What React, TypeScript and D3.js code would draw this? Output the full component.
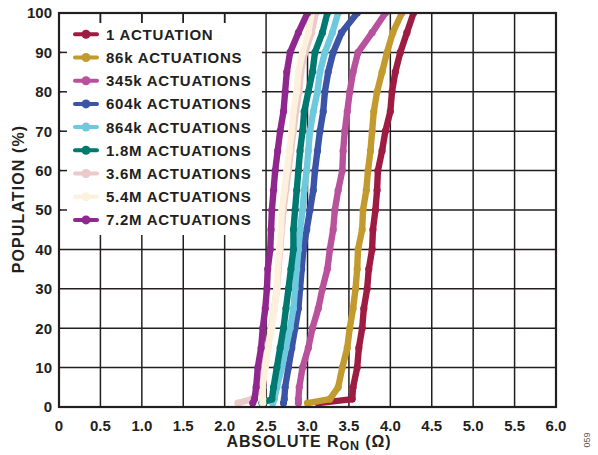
import React from 'react';
import * as d3 from 'd3';

// Population levels (%) at which each curve's R_ON is read
const population = [1, 2, 5, 10, 15, 20, 25, 30, 35, 40, 45, 50, 55, 60, 65, 70, 75, 80, 85, 90, 95, 100];

// Absolute R_ON (Ω) for each series at the population levels above
const ron1 = [3.13, 3.54, 3.55, 3.60, 3.62, 3.66, 3.68, 3.72, 3.74, 3.78, 3.79, 3.82, 3.84, 3.85, 3.90, 3.94, 4.00, 4.02, 4.06, 4.12, 4.20, 4.28];
const ron86k = [3.00, 3.27, 3.37, 3.42, 3.48, 3.51, 3.55, 3.58, 3.60, 3.61, 3.66, 3.67, 3.71, 3.73, 3.76, 3.78, 3.80, 3.84, 3.90, 3.96, 4.03, 4.14];
const ron345k = [2.89, 2.89, 2.90, 2.94, 3.01, 3.06, 3.13, 3.18, 3.24, 3.27, 3.31, 3.33, 3.37, 3.42, 3.43, 3.45, 3.48, 3.51, 3.55, 3.61, 3.78, 3.94];
const ron604k = [2.71, 2.72, 2.73, 2.77, 2.81, 2.85, 2.89, 2.91, 2.93, 2.95, 2.99, 3.03, 3.07, 3.09, 3.12, 3.15, 3.19, 3.21, 3.25, 3.31, 3.41, 3.60];
const ron864k = [2.58, 2.60, 2.63, 2.69, 2.74, 2.79, 2.83, 2.85, 2.87, 2.89, 2.91, 2.94, 2.96, 2.99, 3.01, 3.03, 3.07, 3.12, 3.15, 3.21, 3.30, 3.37];
const ron1_8M = [2.45, 2.57, 2.59, 2.63, 2.67, 2.71, 2.74, 2.77, 2.80, 2.83, 2.83, 2.85, 2.87, 2.89, 2.91, 2.94, 2.96, 3.01, 3.06, 3.09, 3.18, 3.24];
const ron3_6M = [2.16, 2.33, 2.45, 2.48, 2.52, 2.56, 2.60, 2.63, 2.65, 2.67, 2.69, 2.71, 2.74, 2.77, 2.80, 2.83, 2.86, 2.90, 2.92, 2.97, 3.05, 3.10];
const ron5_4M = [2.46, 2.46, 2.46, 2.49, 2.52, 2.57, 2.60, 2.63, 2.64, 2.66, 2.68, 2.69, 2.72, 2.75, 2.78, 2.81, 2.83, 2.87, 2.89, 2.94, 3.01, 3.05];
const ron7_2M = [2.34, 2.36, 2.38, 2.40, 2.44, 2.46, 2.49, 2.51, 2.52, 2.55, 2.56, 2.57, 2.59, 2.61, 2.64, 2.67, 2.71, 2.73, 2.75, 2.79, 2.89, 3.00];

const seriesNames = [
  '1 ACTUATION',
  '86k ACTUATIONS',
  '345k ACTUATIONS',
  '604k ACTUATIONS',
  '864k ACTUATIONS',
  '1.8M ACTUATIONS',
  '3.6M ACTUATIONS',
  '5.4M ACTUATIONS',
  '7.2M ACTUATIONS',
];
const seriesValues = [ron1, ron86k, ron345k, ron604k, ron864k, ron1_8M, ron3_6M, ron5_4M, ron7_2M];
const seriesColors = ['#9E1B42', '#C39A2E', '#B9529C', '#3B54A5', '#6DC9DD', '#007A70', '#EBCACA', '#FDF1DD', '#8F278E'];

const xTicks = [0, 0.5, 1, 1.5, 2, 2.5, 3, 3.5, 4, 4.5, 5, 5.5, 6];
const xTickLabels = ['0', '0.5', '1.0', '1.5', '2.0', '2.5', '3.0', '3.5', '4.0', '4.5', '5.0', '5.5', '6.0'];
const yTicks = [0, 10, 20, 30, 40, 50, 60, 70, 80, 90, 100];

const FONT = '"Liberation Sans", Arial, Helvetica, sans-serif';
const INK = '#231F20';

export default function App() {
  const W = 598;
  const H = 455;
  const left = 59;
  const right = 556;
  const top = 13;
  const bottom = 407;

  const x = d3.scaleLinear().domain([0, 6]).range([left, right]);
  const y = d3.scaleLinear().domain([0, 100]).range([bottom, top]);

  const line = d3
    .line<[number, number]>()
    .x((d) => x(d[0]))
    .y((d) => y(d[1]));

  // legend box (white, hides grid)
  const legX0 = 61;
  const legX1 = 262;
  const legY0 = 23;
  const legY1 = 235;
  const legRow0 = 34.3;
  const legStep = 23.2;

  return (
    <svg
      width={W}
      height={H}
      viewBox={`0 0 ${W} ${H}`}
      style={{ position: 'absolute', left: 0, top: 0, display: 'block', background: '#fff' }}
      fontFamily={FONT}
    >
      <defs>
        <clipPath id="plotClip">
          <rect x={left} y={top} width={right - left} height={bottom - top} />
        </clipPath>
      </defs>
      <rect x={0} y={0} width={W} height={H} fill="#fff" />

      {/* grid */}
      {xTicks.slice(1, -1).map((t) => (
        <line key={'gx' + t} x1={x(t)} x2={x(t)} y1={top} y2={bottom} stroke={INK} strokeWidth={1.5} />
      ))}
      {yTicks.slice(1, -1).map((t) => (
        <line key={'gy' + t} x1={left} x2={right} y1={y(t)} y2={y(t)} stroke={INK} strokeWidth={1.5} />
      ))}

      {/* legend background hides grid */}
      <rect x={legX0} y={legY0} width={legX1 - legX0} height={legY1 - legY0} fill="#fff" />
      {/* ticks over legend region */}
      {xTicks.slice(1, -1).filter((t) => x(t) < legX1).map((t) => (
        <line key={'tx' + t} x1={x(t)} x2={x(t)} y1={top} y2={top + 10} stroke={INK} strokeWidth={1.5} />
      ))}
      {yTicks.slice(1, -1).filter((t) => y(t) > legY0 && y(t) < legY1).map((t) => (
        <line key={'ty' + t} x1={left} x2={left + 8} y1={y(t)} y2={y(t)} stroke={INK} strokeWidth={1.5} />
      ))}

      {/* curves */}
      <g clipPath="url(#plotClip)">
        {seriesValues.map((vals, i) => {
          const pts: [number, number][] = vals.map((v, j) => [v, population[j]]);
          return (
            <g key={'s' + i}>
              <path
                d={line(pts) || ''}
                fill="none"
                stroke={seriesColors[i]}
                strokeWidth={6.4}
                strokeLinejoin="round"
                strokeLinecap="round"
              />
              {pts.map((p, j) => (
                <circle key={j} cx={x(p[0])} cy={y(p[1])} r={3.6} fill={seriesColors[i]} />
              ))}
            </g>
          );
        })}
      </g>

      {/* frame */}
      <rect x={left} y={top} width={right - left} height={bottom - top} fill="none" stroke={INK} strokeWidth={2.2} />

      {/* legend entries */}
      {seriesNames.map((name, i) => {
        const cy = legRow0 + i * legStep;
        return (
          <g key={'l' + i}>
            <line x1={75} x2={97} y1={cy} y2={cy} stroke={seriesColors[i]} strokeWidth={4} strokeLinecap="round" />
            <circle cx={86} cy={cy} r={4.5} fill={seriesColors[i]} />
            <text
              x={106}
              y={cy}
              dy="0.36em"
              fontSize={15}
              fontWeight="bold"
              fill={INK}
              letterSpacing={0.75}
            >
              {name}
            </text>
          </g>
        );
      })}

      {/* y tick labels */}
      {yTicks.map((t) => (
        <text key={'yl' + t} x={52} y={y(t)} dy="0.36em" textAnchor="end" fontSize={15} fontWeight="bold" fill={INK}>
          {t}
        </text>
      ))}

      {/* x tick labels */}
      {xTicks.map((t, i) => (
        <text key={'xl' + t} x={x(t)} y={430.5} textAnchor="middle" fontSize={15} fontWeight="bold" fill={INK}>
          {xTickLabels[i]}
        </text>
      ))}

      {/* x axis title */}
      <text x={309} y={446.5} textAnchor="middle" fontSize={16} fontWeight="bold" fill={INK} letterSpacing={0.9}>
        ABSOLUTE R
        <tspan fontSize={12.5} dy={3}>ON</tspan>
        <tspan dy={-3}> (Ω)</tspan>
      </text>

      {/* y axis title */}
      <text
        transform={`translate(24, 199) rotate(-90)`}
        textAnchor="middle"
        fontSize={16}
        fontWeight="bold"
        fill={INK}
        letterSpacing={1.1}
      >
        POPULATION (%)
      </text>

      {/* figure id */}
      <text
        transform={`translate(590, 440) rotate(-90)`}
        textAnchor="middle"
        fontSize={9}
        fill="#555"
      >
        059
      </text>
    </svg>
  );
}
